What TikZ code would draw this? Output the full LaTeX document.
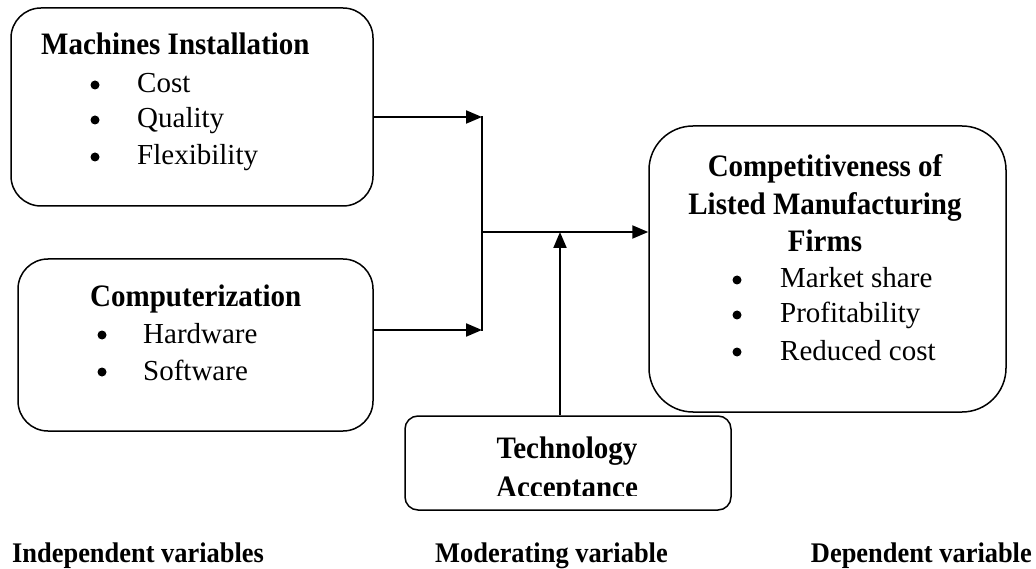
\documentclass[tikz,border=0pt]{standalone}
\usepackage{fontspec}
\setmainfont{Liberation Serif}[BoldFeatures={FakeStretch=0.93}]
\usetikzlibrary{arrows.meta}
\begin{document}
\begin{tikzpicture}[x=1pt,y=-1pt,
	box/.style={draw,line width=1.5pt,rounded corners=#1,inner sep=0pt},
	txt/.style={anchor=base west,inner sep=0pt,font=\fontsize{29}{35}\selectfont},
	ttl/.style={anchor=base,inner sep=0pt,font=\fontsize{31.2}{37}\selectfont\bfseries},
	dot/.style={circle,fill,inner sep=0pt,minimum size=9pt},
	lbl/.style={anchor=base west,inner sep=0pt,font=\fontsize{28.4}{34}\selectfont\bfseries},
	link/.style={line width=2pt},
	arr/.style={link,-{Triangle[length=16pt,width=13pt]}}]
	\useasboundingbox (0,0) rectangle (1036,569);
	\node[box=30pt,minimum width=362pt,minimum height=198pt] at (192,107) (machines) {};
	\node[box=30pt,minimum width=355pt,minimum height=172pt] at (195.5,345) (computer) {};
	\node[box=44pt,minimum width=357pt,minimum height=286pt] at (827.5,269) (compet) {};
	\node[box=13pt,minimum width=326pt,minimum height=94pt] at (568,463) (tech) {};
	\node[ttl,anchor=base west] at (41,55) (mtitle) {Machines Installation};
	\node[dot] at (95,85) (mdot1) {};
	\node[dot] at (95,120) (mdot2) {};
	\node[dot] at (95,157) (mdot3) {};
	\node[txt] at (137,93) (cost) {Cost};
	\node[txt] at (137,128) (quality) {Quality};
	\node[txt] at (137,165) (flex) {Flexibility};
	\node[ttl,anchor=base west] at (90,306) (ctitle) {Computerization};
	\node[dot] at (102,335) (cdot1) {};
	\node[dot] at (102,372) (cdot2) {};
	\node[txt] at (143,343) (hard) {Hardware};
	\node[txt] at (143,380) (soft) {Software};
	\node[ttl] at (825,177) (dtitle1) {Competitiveness of};
	\node[ttl] at (825,215) (dtitle2) {Listed Manufacturing};
	\node[ttl] at (825,252) (dtitle3) {Firms};
	\node[dot] at (737,280) (ddot1) {};
	\node[dot] at (737,315) (ddot2) {};
	\node[dot] at (737,352) (ddot3) {};
	\node[txt] at (780,288) (share) {Market share};
	\node[txt] at (780,323) (profit) {Profitability};
	\node[txt] at (780,360) (reduced) {Reduced cost};
	\begin{scope}
		\clip (tech.north west) rectangle (731,495);
		\node[ttl] at (567,458) (ttitle1) {Technology};
		\node[ttl] at (567,497) (ttitle2) {Acceptance};
	\end{scope}
	\node[lbl] at (12,562) (indep) {Independent variables};
	\node[lbl] at (435,562) (moder) {Moderating variable};
	\node[lbl,anchor=base east] at (1032,562) (depen) {Dependent variable};
	\coordinate (j1) at (482,117);
	\coordinate (j2) at (482,330);
	\coordinate (jm) at (482,232);
	\coordinate (jt) at (560,232);
	\draw[arr] (machines.east |- j1) -- (j1);
	\draw[arr] (computer.east |- j2) -- (j2);
	\draw[link,line cap=rect] (j1) -- (j2);
	\draw[arr] (jm) -- (compet.west |- jm);
	\draw[arr] (tech.north -| jt) -- (jt);
\end{tikzpicture}
\end{document}
